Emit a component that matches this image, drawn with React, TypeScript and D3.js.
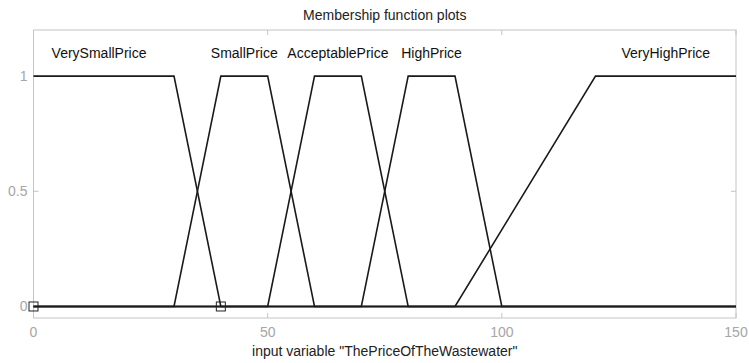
import * as d3 from "d3";

// membership functions: trapezoid params [a, b, c, d]
const mfNames = ["VerySmallPrice", "SmallPrice", "AcceptablePrice", "HighPrice", "VeryHighPrice"];
const mfParams = [
  [0, 0, 30, 40],
  [30, 40, 50, 60],
  [50, 60, 70, 80],
  [70, 80, 90, 100],
  [90, 120, 150, 150],
];
const labelX = [14, 45, 65, 85, 135];
const markerX = [0, 40];

const xTicks = [0, 50, 100, 150];
const yTicks = [0, 0.5, 1];
const xRange = [0, 150];

const W = 749;
const H = 363;
const margin = { top: 30, right: 13, bottom: 45, left: 33.5 };

function trapmf(x: number, [a, b, c, d]: number[]) {
  if (x < a || x > d) return 0;
  if (x >= b && x <= c) return 1;
  if (x < b) return (x - a) / (b - a);
  return (d - x) / (d - c);
}

export default function App() {
  const x = d3.scaleLinear(xRange, [margin.left, W - margin.right]);
  const y = d3.scaleLinear([-0.05, 1.2], [H - margin.bottom, margin.top]);
  const line = d3.line<[number, number]>()
    .x(d => x(d[0]))
    .y(d => y(d[1]));

  const font = "'Liberation Sans', Arial, sans-serif";
  const gray = "#a6a6a6";
  const x0 = margin.left;
  const x1 = W - margin.right;
  const y0 = H - margin.bottom;
  const y1 = margin.top;

  return (
    <svg width={W} height={H} style={{ position: "absolute", left: 0, top: 0, background: "#fff" }}>
      <rect x={0} y={0} width={W} height={H} fill="#fff" />
      {/* title */}
      <text x={(x0 + x1) / 2} y={20} textAnchor="middle" fontFamily={font} fontSize={14} fill="#222">
        Membership function plots
      </text>

      {/* box */}
      <rect x={x0} y={y1} width={x1 - x0} height={y0 - y1} fill="none" stroke="#c4c4c4" strokeWidth={1} />

      {/* ticks */}
      {xTicks.map(t => (
        <g key={"x" + t}>
          <line x1={x(t)} x2={x(t)} y1={y0} y2={y0 - 5} stroke="#c4c4c4" />
          <line x1={x(t)} x2={x(t)} y1={y1} y2={y1 + 5} stroke="#c4c4c4" />
          <text x={x(t)} y={y0 + 19} textAnchor="middle" fontFamily={font} fontSize={14} fill={gray}>
            {t}
          </text>
        </g>
      ))}
      {yTicks.map(t => (
        <g key={"y" + t}>
          <line x1={x0} x2={x0 + 5} y1={y(t)} y2={y(t)} stroke="#c4c4c4" />
          <line x1={x1} x2={x1 - 5} y1={y(t)} y2={y(t)} stroke="#c4c4c4" />
          <text x={x0 - 6} y={y(t) + 5} textAnchor="end" fontFamily={font} fontSize={14} fill={gray}>
            {t}
          </text>
        </g>
      ))}

      {/* membership functions */}
      {mfParams.map((p, i) => {
        const xs = Array.from(new Set([xRange[0], ...p, xRange[1]])).sort((a, b) => a - b);
        const pts: [number, number][] = xs.map(v => [v, trapmf(v, p)]);
        return (
          <path key={mfNames[i]} d={line(pts) ?? ""} fill="none" stroke="#1a1a1a" strokeWidth={1.6} strokeLinejoin="miter" />
        );
      })}

      {/* markers */}
      {markerX.map(m => (
        <rect key={"m" + m} x={x(m) - 4.5} y={y(0) - 4.5} width={9} height={9} fill="none" stroke="#222" strokeWidth={1} />
      ))}

      {/* mf labels */}
      {mfNames.map((n, i) => (
        <text key={"l" + n} x={x(labelX[i])} y={y(1.1) + 5} textAnchor="middle" fontFamily={font} fontSize={14} fill="#111">
          {n}
        </text>
      ))}

      {/* x label */}
      <text x={(x0 + x1) / 2} y={356} textAnchor="middle" fontFamily={font} fontSize={14} fill="#222">
        input variable "ThePriceOfTheWastewater"
      </text>
    </svg>
  );
}
